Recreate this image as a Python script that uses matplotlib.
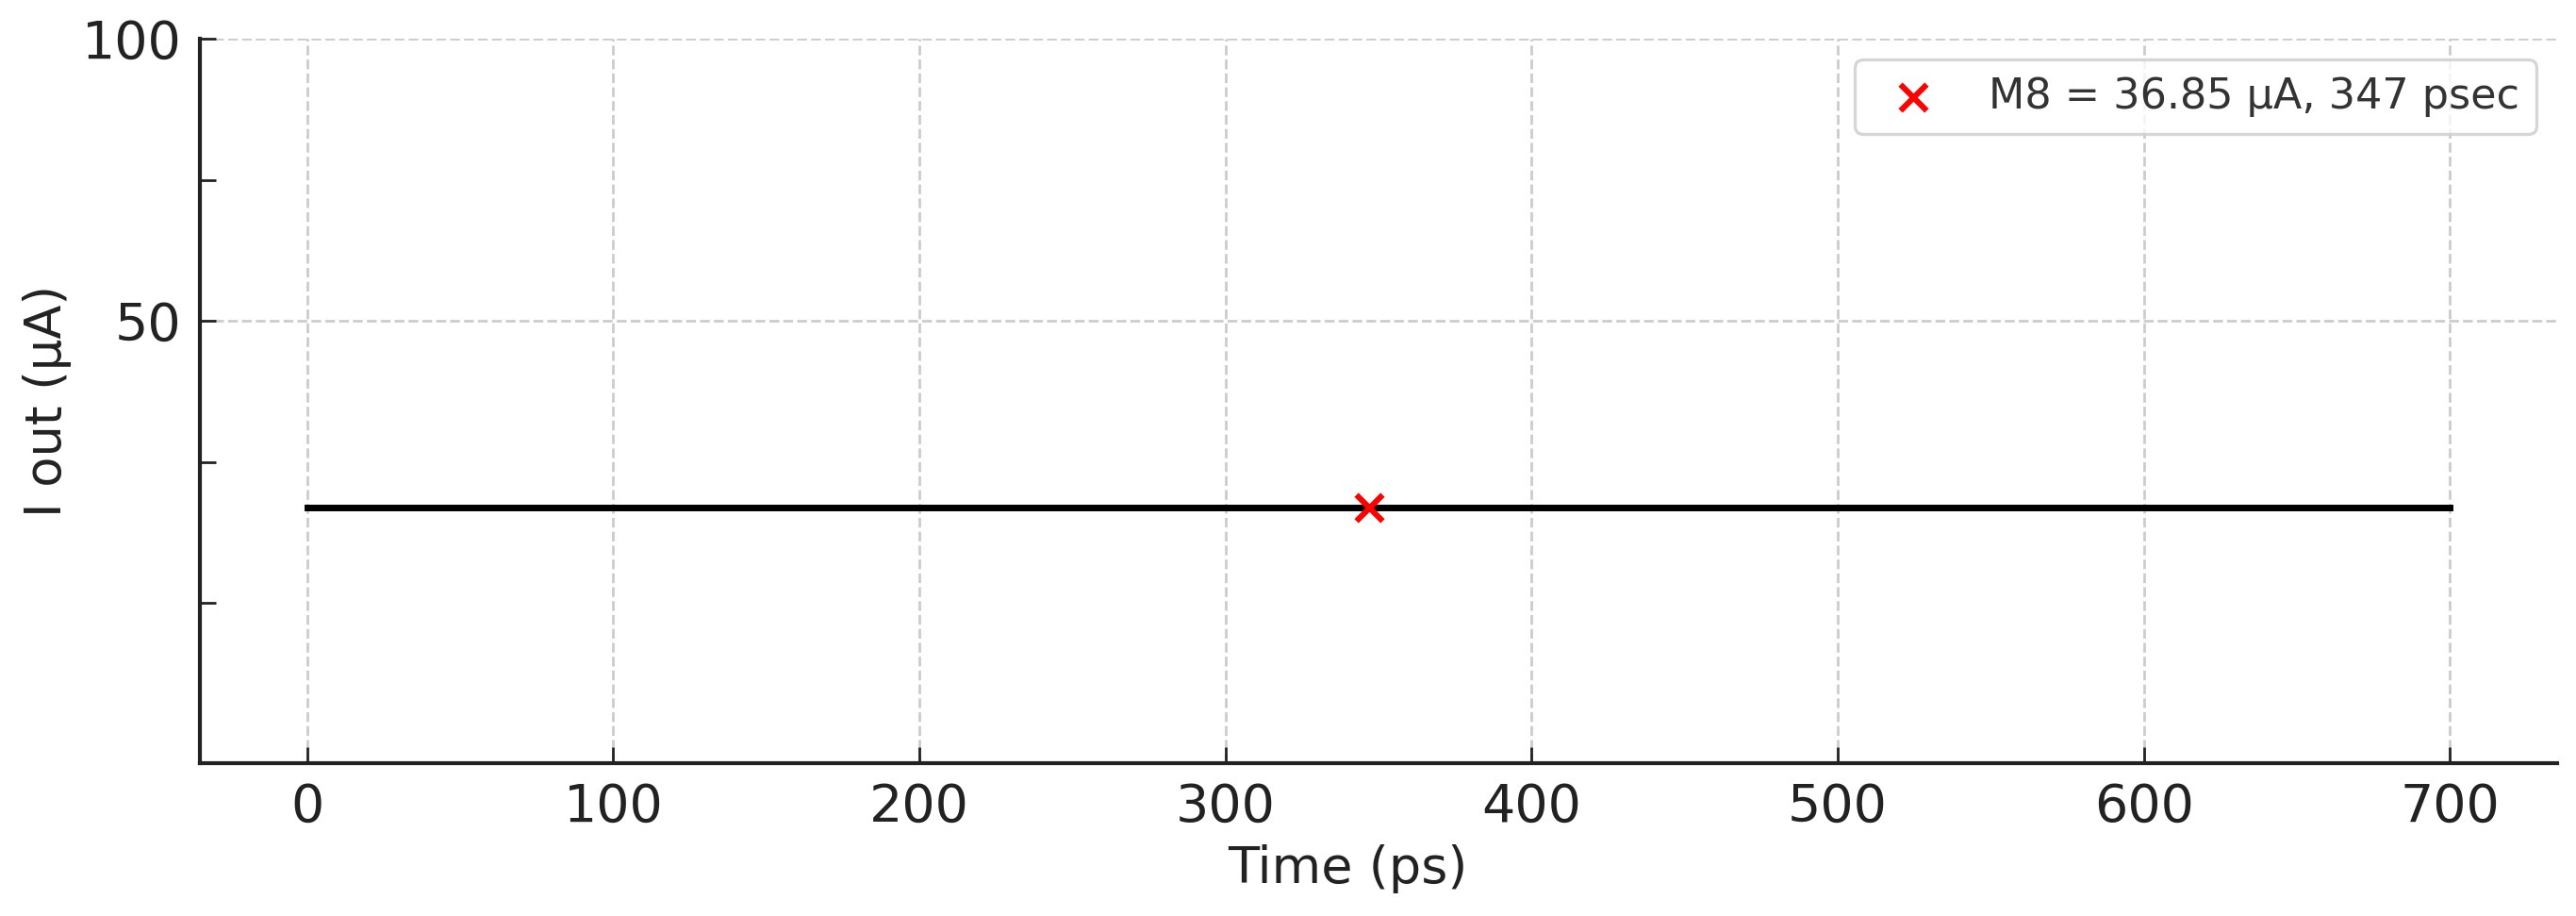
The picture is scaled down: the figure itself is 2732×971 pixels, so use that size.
import numpy as np
import matplotlib
matplotlib.use("Agg")
import matplotlib.pyplot as plt

# ----------------------------
# Data
# ----------------------------
time_ps = [0, 700]            # flat output current trace, start / end
i_out = [16.9, 16.9]          # plotted level (axis units)
marker_t = [347]
marker_i = [16.9]
marker_label = "M8 = 36.85 µA, 347 psec"

x_ticks = [0, 100, 200, 300, 400, 500, 600, 700]
y_major = [50, 100]
y_minor = [0, 25, 75]
y_lim = (-28.4, 100)

TXT = "#222222"

fig = plt.figure(figsize=(13.66, 4.855), dpi=200)
ax = fig.add_axes([0.0776, 0.1668, 0.9151, 0.791])

ax.plot(time_ps, i_out, color="black", lw=2.5, zorder=3)
ax.scatter(marker_t, marker_i, marker="x", color="red", s=100, linewidths=2.2,
           zorder=4, label=marker_label)

ax.set_ylim(*y_lim)
ax.set_xticks(x_ticks)
ax.set_yticks(y_major)
ax.set_yticks(y_minor, minor=True)

ax.grid(True, which="major", linestyle="--", color="#cccccc", lw=1.0, zorder=0)
ax.set_axisbelow(True)

for side in ("top", "right"):
    ax.spines[side].set_visible(False)
for side in ("left", "bottom"):
    ax.spines[side].set_linewidth(1.5)
    ax.spines[side].set_color(TXT)

ax.tick_params(axis="both", which="both", direction="in", length=6, width=1.0,
               colors=TXT, labelsize=20, pad=7)

ax.set_xlabel("Time (ps)", fontsize=19.5, color=TXT)
ax.set_ylabel("I out (µA)", fontsize=19, color=TXT, labelpad=4)
ax.xaxis.set_label_coords(0.487, -0.112)

leg = ax.legend(loc="upper right", fontsize=16, frameon=True, fancybox=True)
leg.get_frame().set_edgecolor("#cccccc")
leg.get_frame().set_linewidth(1.2)
for t in leg.get_texts():
    t.set_color("#333333")

fig.savefig("out.png", dpi=200)
